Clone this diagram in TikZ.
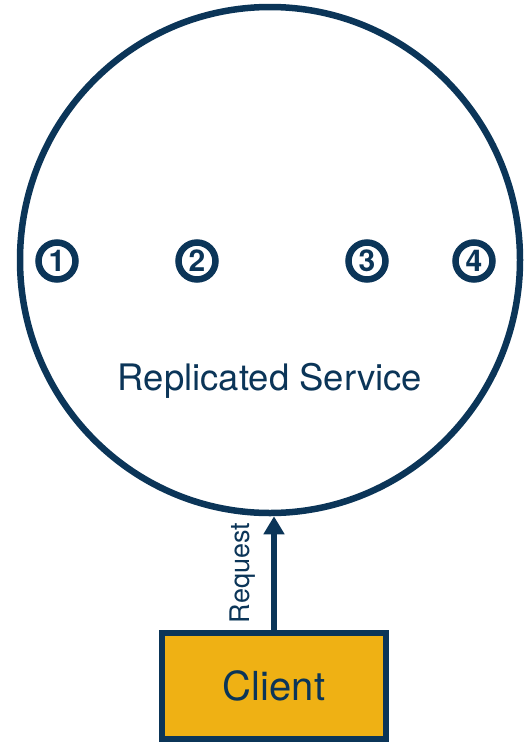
\documentclass[tikz,border=0pt]{standalone}
\usepackage{fontspec}
\setmainfont{TeX Gyre Heros}
\usepackage{tikz}
\usetikzlibrary{shapes.geometric, arrows.meta, positioning}
\definecolor{navy}{RGB}{11,53,88}
\definecolor{gold}{RGB}{239,177,20}
\tikzset{
    service/.style={draw=navy, ellipse, inner sep=0pt, minimum width=500pt, minimum height=506pt, line width=6.5pt},
    replica/.style={draw=navy, circle, fill=white, inner sep=0pt, minimum size=37pt, line width=6.5pt, text=navy, font=\fontsize{30}{32}\selectfont\bfseries},
    clientbox/.style={draw=navy, rectangle, fill=gold, inner sep=0pt, minimum width=224pt, minimum height=106pt, line width=6.5pt, text=navy, font=\fontsize{40}{44}\selectfont},
    request/.style={line width=6pt, draw=navy, -{Triangle[length=18pt, width=20pt]}}
}
\begin{document}
\begin{tikzpicture}[x=1pt, y=1pt]
        \useasboundingbox (0,0) rectangle (527,-742);

        % -----------------------------------------------------------------
        % SERVIZIO REPLICATO
        % -----------------------------------------------------------------
        \node[service] (service) at (270,-260) {};
        \node[text=navy, font=\fontsize{36.5}{40}\selectfont] (servicelabel) at (270,-381) {Replicated Service};

        % repliche
        \foreach \n/\x in {1/57, 2/197, 3/367, 4/474} {
            \node[replica] (r\n) at (\x,-261) {\n};
        }

        % -----------------------------------------------------------------
        % CLIENT
        % -----------------------------------------------------------------
        \node[clientbox] (client) at (274,-686) {Client};

        \draw[request] (client.north) -- (client.north |- service.south)
            node[midway, sloped, above=16pt, inner sep=0pt, text=navy, font=\fontsize{27}{29}\selectfont] (requestlabel) {Request};

    \end{tikzpicture}
\end{document}
